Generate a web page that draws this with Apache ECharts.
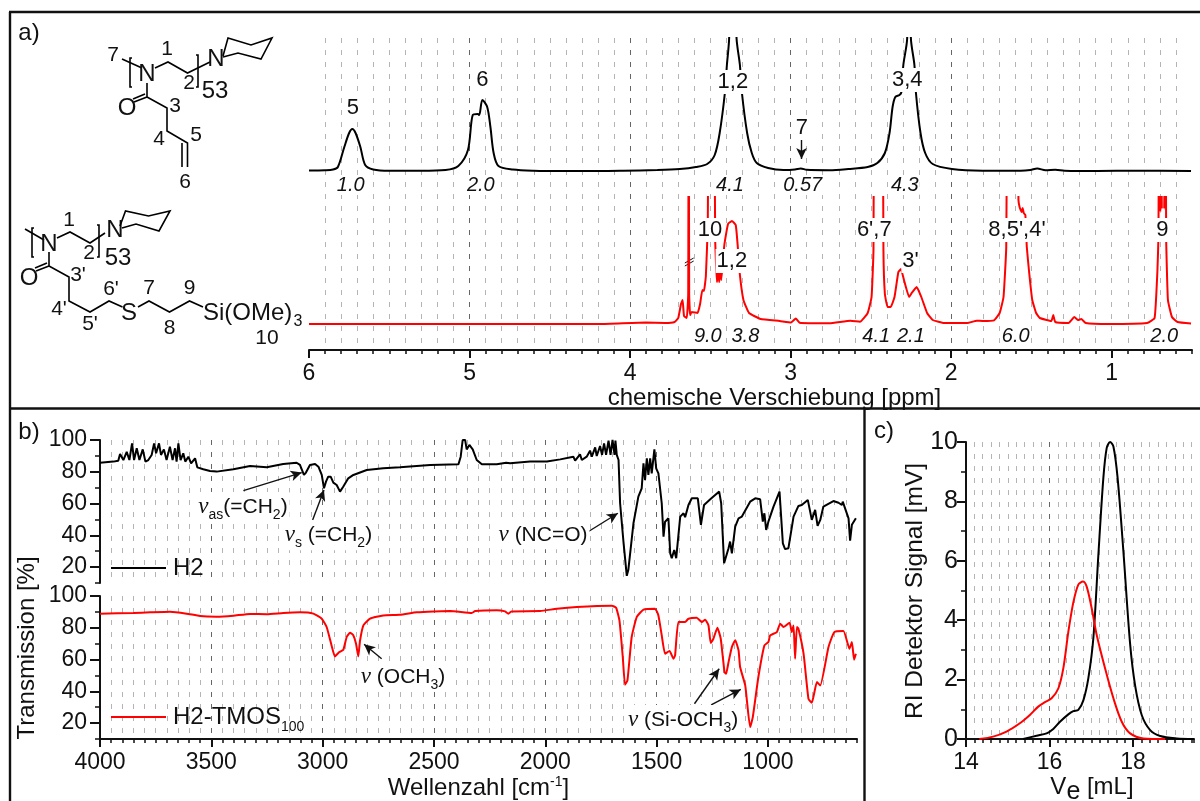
<!DOCTYPE html>
<html><head><meta charset="utf-8">
<style>html,body{margin:0;padding:0;background:#fff}#c{width:1200px;height:801px}</style>
<script src="https://cdn.jsdelivr.net/npm/echarts@6/dist/echarts.min.js"></script>
</head><body><div id="c"></div>
<script>
// ---------- Data ----------
const nmrH2Ppm = [6,5.9,5.85,5.82,5.78,5.75,5.73,5.71,5.68,5.65,5.6,5.5,5.3,5.15,5.07,5.01,4.98,4.95,4.94,4.92,4.89,4.87,4.85,4.82,4.73,4.6,4.4,4.19,4.045,3.83,3.69,3.59,3.52,3.473,3.442,3.409,3.397,3.383,3.366,3.337,3.316,3.304,3.271,3.242,3.211,3.14,3.044,2.973,2.937,2.9,2.758,2.64,2.52,2.46,2.413,2.384,2.365,2.348,2.322,2.31,2.298,2.274,2.263,2.251,2.229,2.22,2.191,2.162,2.115,1.996,1.805,1.567,1.507,1.464,1.412,1.352,1.293,1.09,0.852,0.506];
const nmrH2Int = [0.5,0.8,1.5,4,24,38,42,38,24,6,1.5,0.2,0.2,1,5,21,56,57,56,71,64,44,18,5,1.5,0.3,0,0,0.3,1,2,4,7,16,38,79,106,133,300,133,106,79,38,18,8,3,1,1.5,2.5,1.2,0.8,2,4,8,18,38,64,74,76,79,106,133,300,133,106,79,38,18,7,2,0.3,0.3,1,2.5,0.8,1.2,0.3,0,0.3,0];
const nmrTmosPpm = [6,5,4.6,4.188,3.902,3.783,3.723,3.7,3.683,3.673,3.664,3.647,3.638,3.635,3.632,3.626,3.616,3.58,3.564,3.55,3.54,3.528,3.516,3.509,3.495,3.478,3.47,3.459,3.45,3.445,3.44,3.432,3.413,3.39,3.366,3.342,3.33,3.318,3.294,3.259,3.187,3.068,2.997,2.968,2.944,2.758,2.627,2.568,2.52,2.496,2.484,2.479,2.46,2.429,2.422,2.413,2.396,2.377,2.353,2.329,2.313,2.294,2.262,2.246,2.215,2.186,2.15,2.115,2.043,1.9,1.841,1.805,1.733,1.698,1.674,1.657,1.648,1.626,1.59,1.581,1.574,1.567,1.56,1.555,1.548,1.538,1.529,1.514,1.495,1.471,1.448,1.376,1.364,1.352,1.269,1.233,1.209,1.19,1.162,1.019,0.78,0.733,0.716,0.709,0.704,0.698,0.693,0.688,0.68,0.673,0.665,0.661,0.65,0.625,0.59,0.506];
const nmrTmosInt = [0,0,0,0,1.5,1,2,6,20,24,8,6,30,300,30,9,12,11,20,34,33,48,100,300,400,300,85,42,53,42,55,44,79,100,103,99,79,52,24,11,5,3,1.5,5.5,1.3,0.7,3.3,2.3,11,27,74,300,400,300,74,30,17,17,27,52,55,44,27,31,37,27,11,4,1,1,3.3,3,3.7,11,27,77,300,400,300,124,117,114,112,116,111,109,77,51,24,11,6,3,9,2,1,7,4,5,1,0,1,6,51,87,300,112,300,115,300,115,300,87,24,7,2,0.5];

const irH2Wave = [4000,3940,3918,3910,3895,3880,3868,3856,3847,3835,3823,3808,3796,3783,3768,3757,3748,3735,3726,3713,3701,3686,3674,3663,3656,3648,3638,3626,3617,3603,3591,3573,3563,3536,3506,3476,3401,3326,3251,3177,3117,3102,3084,3075,3057,3034,3019,3004,2994,2985,2975,2964,2952,2937,2922,2907,2885,2862,2802,2728,2653,2517,2390,2380,2371,2360,2353,2341,2326,2308,2285,2218,2176,2158,2068,1993,1933,1874,1866,1844,1836,1814,1799,1791,1776,1769,1754,1745,1736,1727,1716,1707,1698,1689,1685,1679,1671,1664,1649,1634,1627,1604,1582,1567,1559,1552,1544,1537,1529,1522,1510,1502,1492,1477,1469,1465,1462,1447,1439,1432,1421,1412,1394,1379,1372,1357,1342,1315,1301,1296,1287,1259,1237,1219,1210,1197,1177,1170,1162,1147,1132,1117,1080,1057,1035,1023,1016,1008,998,975,948,933,923,908,885,863,848,821,803,788,777,765,751,706,683,668,664,638,631,623,605];
const irH2Trans = [85.7,86.4,87,91.2,87.4,92.5,87.4,97.9,87.4,94.8,87.4,94.1,86.4,87.4,90.6,97.9,91.6,97.9,90.6,94.1,87.4,95.8,87.4,94.8,86.4,97.9,87.4,91.6,86.4,89.5,85.3,88.5,82.8,81.6,80.5,80.1,81.6,83.7,82.8,84.9,85.7,84.3,78,79.5,84.3,84.9,83.2,78,69.6,73.8,76.9,76.9,73.2,71.7,67.5,70.7,75.9,78,81.1,82.2,82.8,84.3,84.7,89.5,100,100,94.1,96.9,94.1,87.4,84.7,84.7,85.7,85.3,86.4,86.4,87.8,89.5,87,91,87.4,89.5,93.3,89.5,95.4,89.9,96.2,90.6,97.9,90.6,99.6,90.6,100,90.6,99.6,90.6,87.4,60.2,36.1,14.5,18.3,47.6,64.4,69.6,85.3,74.8,88.5,78,88.5,79,94.1,82.2,79,60.2,39.2,38.2,48.6,50.7,28.7,25.6,30.8,25.6,51.8,53.9,51.4,59.1,63.3,63.3,46.6,46.6,59.1,62.7,65.4,67.5,60.2,22.4,31.9,36.1,28.7,45.5,50.7,51.8,61.2,63.3,62.7,48.6,53.9,43.4,48.6,58.1,67.5,35,31.3,31.9,51.8,58.5,59.1,62.3,49.7,56,45.9,49.7,58.1,61.6,60.5,59.1,61.2,50.7,36.7,46.6,50.7];
const irTmosWave = [4000,3850,3775,3686,3611,3551,3476,3401,3326,3251,3177,3102,3042,3004,2982,2960,2945,2925,2907,2892,2877,2862,2850,2840,2832,2817,2787,2728,2653,2578,2503,2428,2330,2315,2218,2181,2166,2151,2023,1948,1859,1701,1682,1667,1652,1642,1631,1612,1589,1559,1507,1492,1477,1462,1442,1424,1417,1402,1372,1357,1320,1297,1282,1267,1257,1245,1227,1212,1195,1188,1177,1162,1147,1132,1125,1102,1080,1068,1043,1016,998,990,960,945,930,903,893,885,878,870,863,840,818,803,780,765,728,702,661,634,623,613,605];
const irTmosTrans = [88.9,89.3,89.7,90.1,88.9,87.4,87,87.6,88.7,88.5,89.3,89.7,88.9,85.7,80.5,68.9,62,64.7,66.2,74.2,76.9,75.2,70,62,72,81.5,85.7,87.8,88.2,89.7,90.3,90.5,89.3,90.5,91,90.3,88.9,90.3,90.5,92,93.1,93.9,92.6,84.7,61.6,44.1,46.9,74.2,86.8,91.4,92,87.8,75.2,63.7,65.4,60.5,62.7,83.6,83.6,85.7,86.3,83.6,85.1,81.5,70.4,73.1,80,73.1,52.1,51,58.4,67.9,72.1,65.8,55.3,43.7,17.5,23.8,49,68.9,71,75.2,77.3,82.6,80.5,83.2,77.3,81.5,60.5,80.5,79.4,63.7,35.3,32.8,45.8,43.7,67.9,77.3,78,66.8,71,59.9,63.7];

const gpcH2Ve = [15.37,15.69,15.93,16.09,16.25,16.45,16.57,16.69,16.81,16.93,17.05,17.17,17.29,17.37,17.45,17.53,17.63,17.77,17.93,18.05,18.21,18.41,18.65,19.05,19.45];
const gpcH2Signal = [0,0.11,0.19,0.34,0.58,0.83,0.94,0.98,1.3,2.05,3.4,6.2,8.8,9.8,10,9.85,8.8,6.3,3.2,1.8,0.8,0.3,0.1,0.02,0];
const gpcTmosVe = [14.32,14.65,14.97,15.29,15.53,15.73,15.89,16.05,16.21,16.33,16.45,16.57,16.69,16.8,16.89,17.01,17.13,17.33,17.53,17.73,17.93,18.25,18.77];
const gpcTmosSignal = [0,0.08,0.25,0.53,0.81,1.09,1.24,1.37,1.7,2.38,3.6,4.6,5.2,5.3,5.13,4.4,3.5,2.38,1.37,0.58,0.19,0.02,0];

const ppmTicks = [6,5,4,3,2,1];
const waveTicks = [4000,3500,3000,2500,2000,1500,1000];
const transTicks = [100,80,60,40,20];
const veTicks = [14,16,18];

const h2LabelPpm = [5.726,4.92,3.36,2.93,2.274], h2LabelInt = [63,91,89,43,91], h2LabelText = ['5','6','1,2','7','3,4'];
const h2IntegralPpm = [5.74,4.93,3.378,2.925,2.289], h2IntegralText = ['1.0','2.0','4.1','0.57','4.3'];
const tmosLabelPpm = [3.502,3.366,2.479,2.253,1.59,0.685], tmosLabelInt = [94,63,94,63,94,94], tmosLabelText = ['10','1,2',"6',7","3'","8,5',4'",'9'];
const tmosIntegralPpm = [3.516,3.282,2.467,2.251,1.598,0.673], tmosIntegralText = ['9.0','3.8','4.1','2.1','6.0','2.0'];

// ---------- Helpers ----------
const zip = (a,b)=>a.map((v,i)=>[v,b[i]]);
const FONT = '"Liberation Sans", Arial, sans-serif';
const INK = '#111';
const GREY = {type:[5,7],color:'#b4b4b4',width:1};
const DARK = {type:[5,7],color:'#666',width:1};
const nu = '{n|ν}';

function xMinor(grid,min,max,interval,inverse,line){
  return {type:'value',gridIndex:grid,min,max,interval,inverse,position:'bottom',
    axisLine:{show:line,onZero:false,lineStyle:{color:INK,width:2}},
    axisTick:{show:line,length:4,lineStyle:{color:INK,width:1.5}},axisLabel:{show:false},
    splitLine:{show:true,showMinLine:false,showMaxLine:false,lineStyle:GREY}};
}
function xMajor(grid,min,max,ticks,inverse,line,name,gap,pad,margin){
  return {type:'value',gridIndex:grid,min,max,inverse,position:'bottom',
    name,nameLocation:'middle',nameGap:gap,
    nameTextStyle:{color:INK,fontFamily:FONT,fontSize:24,padding:pad||0,rich:{
      t:{fontSize:24,fontFamily:FONT,color:INK},
      sup:{fontSize:14,fontFamily:FONT,color:INK,verticalAlign:'top',lineHeight:26},
      sub:{fontSize:25,fontFamily:FONT,color:INK,verticalAlign:'bottom',lineHeight:36}}},
    axisLine:{show:false,onZero:false},
    axisTick:{show:line,length:8,customValues:ticks,lineStyle:{color:INK,width:2}},
    axisLabel:{show:line,customValues:ticks,margin:margin||12,color:INK,fontFamily:FONT,fontSize:23,formatter:v=>String(v)},
    splitLine:{show:true,showMinLine:false,showMaxLine:false,lineStyle:DARK}};
}
function yHidden(grid,min,max){
  return {type:'value',gridIndex:grid,min,max,show:false,splitLine:{show:false}};
}
function yMinor(grid,min,max,interval){
  return {type:'value',gridIndex:grid,min,max,interval,position:'left',
    axisLine:{show:true,onZero:false,lineStyle:{color:INK,width:2}},
    axisTick:{show:true,length:5,lineStyle:{color:INK,width:1.5}},axisLabel:{show:false},splitLine:{show:false}};
}
function yMajor(grid,min,max,ticks){
  return {type:'value',gridIndex:grid,min,max,position:'left',
    axisLine:{show:false,onZero:false},
    axisTick:{show:true,length:10,customValues:ticks,lineStyle:{color:INK,width:2}},
    axisLabel:{show:true,customValues:ticks,margin:13,color:INK,fontFamily:FONT,fontSize:23},splitLine:{show:false}};
}
const arrowLine = segs => ({silent:true,symbol:['none','arrow'],symbolSize:[8,11],animation:false,
  lineStyle:{color:INK,width:1.4,type:'solid'},label:{show:false},emphasis:{disabled:true},
  data:segs.map(s=>[{coord:[s[0],s[1]]},{coord:[s[2],s[3]]}])});
const plainLine = segs => ({silent:true,symbol:['none','none'],animation:false,
  lineStyle:{color:INK,width:1,type:'solid'},label:{show:false},emphasis:{disabled:true},
  data:segs.map(s=>[{coord:[s[0],s[1]]},{coord:[s[2],s[3]]}])});
function curve(name,x,y,data,color,smooth,extra){
  return Object.assign({type:'line',name,xAxisIndex:x,yAxisIndex:y,data,showSymbol:false,symbol:'none',
    smooth,clip:true,z:5,silent:true,
    lineStyle:{color,width:2},itemStyle:{color},emphasis:{disabled:true}},extra||{});
}
const richText = {
  n:{fontFamily:'"Liberation Serif",serif',fontStyle:'italic',fontSize:23,color:INK,lineHeight:28},
  t:{fontFamily:FONT,fontSize:21,color:INK,lineHeight:28},
  s:{fontFamily:FONT,fontSize:14,color:INK,verticalAlign:'bottom',lineHeight:30}
};
function labels(x,y,data,texts,style){
  return {type:'scatter',xAxisIndex:x,yAxisIndex:y,symbolSize:0,silent:true,z:8,clip:false,data,
    itemStyle:{opacity:1},
    label:Object.assign({show:true,position:'inside',color:'#111',opacity:1,fontFamily:FONT,
      formatter:p=>texts[p.dataIndex]},style),
    emphasis:{disabled:true}};
}
const peakStyle = {fontSize:22,backgroundColor:'#fff',padding:[1,1,1,1]};
const intStyle = {fontSize:20,fontStyle:'italic',backgroundColor:'#fff',padding:[0,1,0,1]};

// ---------- Series ----------
const series = [
  curve('NMR H2',0,0,zip(nmrH2Ppm,nmrH2Int),'#000',0.3,{markLine:arrowLine([[2.932,33,2.932,12]])}),
  curve('NMR H2-TMOS',2,1,zip(nmrTmosPpm,nmrTmosInt),'#f00',0.12,{markLine:plainLine([[3.659,61,3.604,66],[3.659,58,3.604,63]])}),
  labels(0,0,zip(h2LabelPpm,h2LabelInt),h2LabelText,peakStyle),
  labels(0,0,h2IntegralPpm.map(p=>[p,-14]),h2IntegralText,intStyle),
  labels(2,1,zip(tmosLabelPpm,tmosLabelInt),tmosLabelText,peakStyle),
  labels(2,1,tmosIntegralPpm.map(p=>[p,-12]),tmosIntegralText,intStyle),

  curve('H2',3,2,zip(irH2Wave,irH2Trans),'#000',false,{markLine:arrowLine([[3356,68.1,3094,79.5],[3045,49.7,2994,68.6],[1806,42.4,1674,53.9]])}),
  curve('H2-TMOS',5,4,zip(irTmosWave,irTmosTrans),'#f00',0.15,{markLine:arrowLine([[2735,60.5,2814,69.6],[1330,32.2,1219,54.2],[1255,31.5,1122,41.2]])}),
  labels(3,2,[[3358,57.8],[2974,40],[2010,40]],
    [nu+'{s|as}{t|(=CH}{s|2}{t|)}',nu+'{s|s}{t| (=CH}{s|2}{t|)}',nu+'{t| (NC=O)}'],{rich:richText,backgroundColor:'#fff',padding:[0,2,0,2]}),
  labels(5,4,[[2639,49],[1381,22]],
    [nu+'{t| (OCH}{s|3}{t|)}',nu+'{t| (Si-OCH}{s|3}{t|)}'],{rich:richText,backgroundColor:'#fff',padding:[0,2,0,2]}),

  curve('GPC H2',7,6,zip(gpcH2Ve,gpcH2Signal),'#000',0.3),
  curve('GPC H2-TMOS',7,6,zip(gpcTmosVe,gpcTmosSignal),'#f00',0.3)
];

// ---------- Inset structures and frame (drawn decoration) ----------
const poly = pts => ({type:'polyline',z:20,silent:true,shape:{points:pts},style:{stroke:'#000',lineWidth:1.6,fill:null}});
const txt = (x,y,t,size,extra) => ({type:'text',z:20,silent:true,x,y,style:Object.assign({text:t,fill:INK,font:(size||21)+'px '+FONT,align:'center',verticalAlign:'middle'},extra||{})});
const bw = (x,y1,y2,d) => poly([[x+d,y1],[x,y1],[x,y2],[x+d,y2]]);
const frameLine = (x1,y1,x2,y2) => ({type:'line',z:30,silent:true,shape:{x1,y1,x2,y2},style:{stroke:'#111',lineWidth:2.4}});

const graphics = [
  frameLine(9,12,1200,12),frameLine(10,12,10,801),frameLine(9,408.5,1200,408.5),frameLine(864.5,408,864.5,801),
  txt(29,33,'a)',24),txt(29,432,'b)',24),txt(884,431,'c)',24),
  // upper structure
  txt(113,55,'7',21),poly([[122,59],[142,68]]),bw(130,58,87,2),txt(147,74,'N',24),
  poly([[155,68],[168,62],[187.5,73],[210,62]]),bw(198,55,87,-2),txt(216,59,'N',24),
  poly([[223,56],[228,38],[251,45],[272,38],[261,59],[238,53],[223,57]]),
  txt(167,49,'1',21),txt(189,83,'2',21),txt(215,91,'53',24),
  poly([[147,83],[147,97],[167,108],[167,131],[187.5,143],[187.5,167]]),
  poly([[147,97],[134,102]]),poly([[145,94],[133,99]]),txt(127,108,'O',24),
  poly([[182,143],[182,167]]),txt(175,106,'3',21),txt(159,139,'4',21),txt(196,135,'5',21),txt(185,182,'6',21),
  // lower structure
  poly([[25,229],[44,240]]),bw(32,228,257,2),txt(49,244,'N',24),
  poly([[57,238],[70,232],[90,243],[105,233]]),bw(99,225,257,-2),txt(115,230,'N',24),
  poly([[120,226],[125.5,211],[148.5,216],[170,211],[159,231],[136,224],[122,228]]),
  txt(69,220,'1',21),txt(89,253,'2',21),txt(118,258,'53',24),
  poly([[49,252],[49,266],[69,277],[69,301],[90,312],[109,301],[122.5,307]]),
  poly([[49,266],[36,271]]),poly([[47,263],[35,268]]),txt(29,278,'O',24),
  txt(78,275,"3'",21),txt(59,309,"4'",21),txt(90,324,"5'",21),txt(111,289,"6'",21),
  txt(129,313,'S',24),poly([[138,307],[149,301],[169.5,312],[189.5,301],[203,307]]),
  txt(149,288,'7',21),txt(169.5,328,'8',21),txt(189.5,288,'9',21),
  txt(203,313,'Si(OMe)',24,{align:'left'}),txt(298,322,'3',16),txt(267,338,'10',21),
  // panel axis titles
  txt(27,648,'Transmission [%]',24,{}),
  txt(915,591,'RI Detektor Signal [mV]',24.5,{})
];
graphics[graphics.length-2].rotation = Math.PI/2;
graphics[graphics.length-1].rotation = Math.PI/2;

// ---------- Chart ----------
const chart = echarts.init(document.getElementById('c'),null,{renderer:'canvas',width:1200,height:801});
chart.setOption({
  animation:false,backgroundColor:'#fff',
  grid:[
    {left:309,top:38,width:883,height:312,outerBoundsMode:'none'},
    {left:309,top:197,width:883,height:153,outerBoundsMode:'none'},
    {left:100,top:440,width:757,height:143,outerBoundsMode:'none'},
    {left:100,top:596,width:757,height:143,outerBoundsMode:'none'},
    {left:966,top:442,width:228,height:297,outerBoundsMode:'none'}
  ],
  xAxis:[
    xMinor(0,0.5,6,0.1,true,true),
    xMajor(0,0.5,6,ppmTicks,true,true,'chemische Verschiebung [ppm]',30,[0,0,0,48]),
    Object.assign(xMinor(1,0.5,6,0.1,true,false),{show:false,splitLine:{show:false}}),
    xMinor(2,600,4000,50,true,false),
    xMajor(2,600,4000,waveTicks,true,false,'',0),
    xMinor(3,600,4000,50,true,true),
    xMajor(3,600,4000,waveTicks,true,true,'{t|Wellenzahl [cm}{sup|-1}{t|]}',33,0,12),
    xMinor(4,14,19.46,0.2,false,true),
    xMajor(4,14,19.46,veTicks,false,true,'{t|V}{sub|e}{t| [mL]}',30,[0,0,0,24],12)
  ],
  yAxis:[
    yHidden(0,-179,133),
    yHidden(1,-26,127),
    yMinor(2,10,100,10),
    yMajor(2,10,100,transTicks),
    yMinor(3,10,100,10),
    yMajor(3,10,100,transTicks),
    {type:'value',gridIndex:4,min:0,max:10,interval:2,position:'left',
      axisLine:{show:true,onZero:false,lineStyle:{color:INK,width:2}},
      axisTick:{show:true,length:9,lineStyle:{color:INK,width:2}},
      minorTick:{show:true,splitNumber:2,length:5,lineStyle:{color:INK,width:1.5}},
      axisLabel:{margin:8,color:INK,fontFamily:FONT,fontSize:25},splitLine:{show:false}}
  ],
  legend:[
    {data:[{name:'H2',icon:'rect'}],left:111,top:556,padding:0,itemWidth:55,itemHeight:2,selectedMode:false,
      textStyle:{color:INK,fontFamily:FONT,fontSize:24,padding:[0,0,0,2]}},
    {data:[{name:'H2-TMOS',icon:'rect'}],left:111,top:705,padding:0,itemWidth:55,itemHeight:2,selectedMode:false,
      formatter:()=>'{a|H2-TMOS}{b|100}',
      textStyle:{color:INK,fontFamily:FONT,fontSize:24,padding:[0,0,0,2],rich:{
        a:{fontFamily:FONT,fontSize:24,color:INK,lineHeight:26},
        b:{fontFamily:FONT,fontSize:14,color:INK,verticalAlign:'bottom',lineHeight:34}}}}
  ],
  graphic:{elements:graphics},
  series
});
</script></body></html>
